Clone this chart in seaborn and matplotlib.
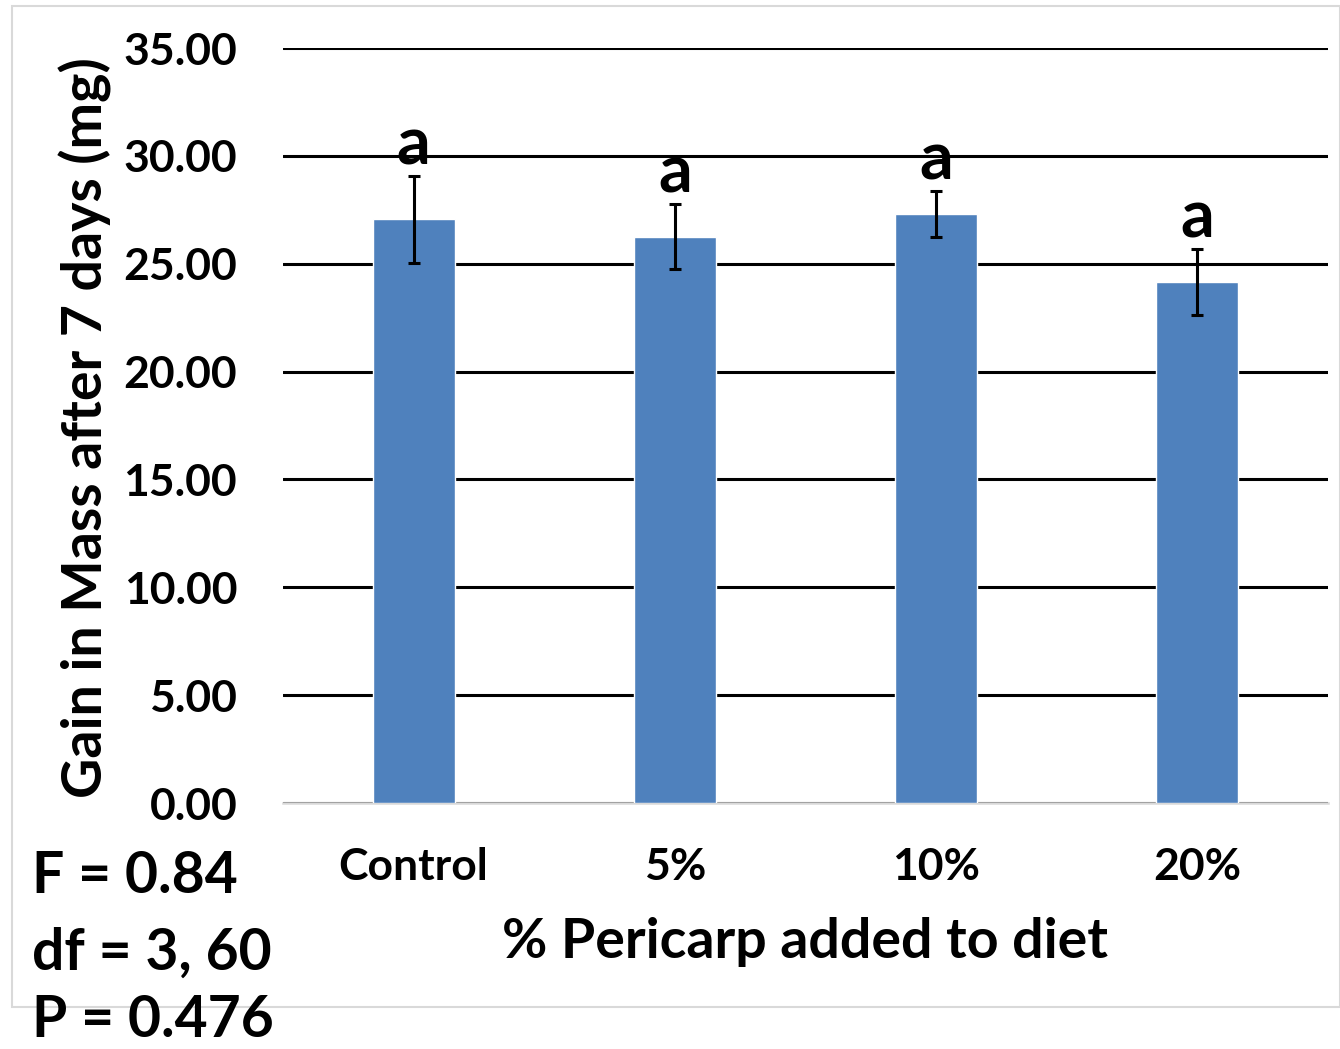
import matplotlib
matplotlib.use("Agg")
import matplotlib.pyplot as plt
from matplotlib.patches import Rectangle
import seaborn as sns
import pandas as pd

# Mean gain in larval mass per diet treatment, with error bars
treatments = ["Control", "5%", "10%", "20%"]
mean_gain = [27.05, 26.26, 27.30, 24.15]
error = [2.02, 1.52, 1.08, 1.55]
letters = ["a", "a", "a", "a"]
y_ticks = [0, 5, 10, 15, 20, 25, 30, 35]
stats_lines = ["F = 0.84", "df = 3, 60", "P = 0.476"]

df = pd.DataFrame({"treatment": treatments, "gain": mean_gain})

sns.set_theme(style="white")
plt.rcParams["font.family"] = ["Lato", "DejaVu Sans"]
plt.rcParams["font.weight"] = "bold"
plt.rcParams["text.color"] = "black"
plt.rcParams["xtick.color"] = "black"
plt.rcParams["ytick.color"] = "black"

fig = plt.figure(figsize=(13.40, 10.49), dpi=100)
ax = fig.add_axes([283 / 1340, 1 - 803 / 1049, (1328 - 283) / 1340, (803 - 48) / 1049])

sns.barplot(data=df, x="treatment", y="gain", color="#4F81BD", width=0.314,
            saturation=1, errorbar=None, ax=ax, zorder=3)
ax.errorbar(x=range(len(treatments)), y=mean_gain, yerr=error, fmt="none",
            ecolor="black", elinewidth=2.2, capsize=4.2, capthick=2.2, zorder=4)

for i, (m, e, s) in enumerate(zip(mean_gain, error, letters)):
    ax.annotate(s, xy=(i, m + e), xytext=(0, 8), textcoords="offset points",
                ha="center", va="baseline", fontsize=48, fontweight="bold",
                color="black", zorder=5)

ax.set_xlim(-0.5, 3.5)
ax.set_ylim(0, 35)
ax.set_yticks(y_ticks)
ax.set_yticklabels([f"{v:.2f}" for v in y_ticks])
ax.yaxis.grid(True, color="black", linewidth=2.2, zorder=0)
ax.set_axisbelow(True)
ax.tick_params(axis="both", length=0, labelsize=32, labelcolor="black")
ax.tick_params(axis="y", pad=33)
ax.tick_params(axis="x", pad=32)
for lab in ax.get_xticklabels() + ax.get_yticklabels():
    lab.set_fontweight("bold")
ax.set_xlabel("")
ax.set_ylabel("")

for side in ["top", "right", "left"]:
    ax.spines[side].set_visible(False)
ax.spines["bottom"].set_color("#d9d9d9")
ax.spines["bottom"].set_linewidth(1.8)
ax.spines["bottom"].set_zorder(1)

fig.text(85 / 1340, 1 - 428 / 1049, "Gain in Mass after 7 days (mg)", rotation=90,
         ha="center", va="center", fontsize=40, fontweight="bold", color="black")
fig.text(805 / 1340, 1 - 942 / 1049, "% Pericarp added to diet",
         ha="center", va="center", fontsize=40, fontweight="bold", color="black")

for line, base in zip(stats_lines[:2], [893, 970]):
    fig.text(32 / 1340, 1 - base / 1049, line, ha="left", va="baseline",
             fontsize=41, fontweight="bold", color="black")
fig.text(32 / 1340, 2 / 1049, stats_lines[2], ha="left", va="bottom",
         fontsize=41, fontweight="bold", color="black")

fig.patches.append(Rectangle((12 / 1340, 1 - 1007 / 1049), (1340 - 12) / 1340, (1007 - 6) / 1049,
                             transform=fig.transFigure, fill=False, edgecolor="#d9d9d9",
                             linewidth=1.5, zorder=0))

fig.savefig("out.png", dpi=100, facecolor="white")
